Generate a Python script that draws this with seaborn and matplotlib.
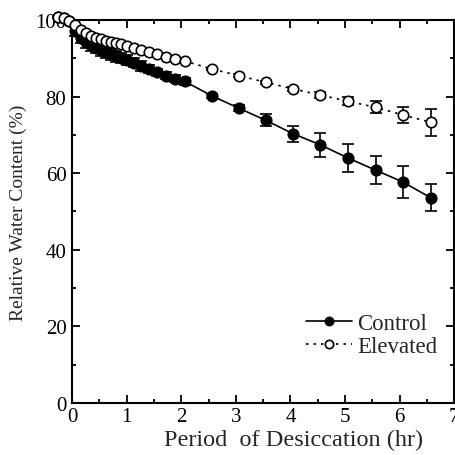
import numpy as np
import pandas as pd
import seaborn as sns
import matplotlib.pyplot as plt
from matplotlib.ticker import MultipleLocator

# desiccation time (hr)
hours = [-0.26, -0.15, -0.05, 0.06, 0.16, 0.26, 0.35, 0.44, 0.53, 0.62,
         0.72, 0.81, 0.90, 1.00, 1.13, 1.27, 1.41, 1.56, 1.72, 1.89,
         2.06, 2.56, 3.05, 3.55, 4.05, 4.55, 5.05, 5.56, 6.06, 6.57]

control = [100.8, 100.4, 99.8, 97.0, 95.3, 94.3, 93.5, 92.8, 92.2, 91.6,
           91.0, 90.5, 90.0, 89.5, 88.8, 88.0, 87.2, 86.3, 85.5, 84.7,
           84.0, 80.2, 77.0, 73.8, 70.3, 67.4, 64.0, 60.8, 57.7, 53.6]
control_err = [0.3, 0.3, 0.5, 1.2, 1.4, 1.5, 1.5, 1.5, 1.5, 1.5,
               1.4, 1.4, 1.3, 1.3, 1.2, 1.2, 1.1, 1.0, 1.0, 0.9,
               0.9, 0.6, 0.7, 1.6, 2.1, 3.1, 3.7, 3.7, 4.1, 3.6]

elevated = [100.8, 100.4, 99.8, 98.6, 97.3, 96.5, 95.9, 95.4, 95.0, 94.6,
            94.3, 94.0, 93.7, 93.3, 92.8, 92.2, 91.6, 91.0, 90.3, 89.8,
            89.3, 87.2, 85.5, 83.7, 82.0, 80.4, 78.8, 77.2, 75.2, 73.3]
elevated_err = [0.2, 0.2, 0.2, 0.3, 0.3, 0.3, 0.3, 0.3, 0.3, 0.3,
                0.3, 0.3, 0.3, 0.3, 0.3, 0.3, 0.3, 0.3, 0.3, 0.3,
                0.3, 0.3, 0.4, 0.4, 0.6, 0.8, 1.0, 1.6, 2.0, 3.5]

df = pd.DataFrame({'hours': hours * 2,
                   'rwc': control + elevated,
                   'group': ['Control'] * len(hours) + ['Elevated'] * len(hours)})

sns.set_style('ticks')
plt.rcParams['font.family'] = ['Liberation Serif', 'DejaVu Serif']

fig = plt.figure(figsize=(4.56, 4.56), dpi=100)
ax = fig.add_axes([0.158, 0.114, 0.838, 0.84])

ax.errorbar(hours, control, yerr=control_err, fmt='none', ecolor='black',
            elinewidth=1.2, capsize=4, capthick=1.2, clip_on=False, zorder=2)
ax.errorbar(hours, elevated, yerr=elevated_err, fmt='none', ecolor='black',
            elinewidth=1.2, capsize=4, capthick=1.2, clip_on=False, zorder=2)

sns.lineplot(data=df[df.group == 'Control'], x='hours', y='rwc', ax=ax,
             color='black', linewidth=1.2, marker='o', markersize=8,
             markerfacecolor='black', markeredgecolor='black',
             label='Control', clip_on=False, zorder=3)
sns.lineplot(data=df[df.group == 'Elevated'], x='hours', y='rwc', ax=ax,
             color='black', linewidth=1.2, linestyle=(0, (1.5, 3)), marker='o',
             markersize=7.5, markerfacecolor='white', markeredgecolor='black',
             markeredgewidth=1.2, label='Elevated', clip_on=False, zorder=4)

ax.set_xlim(0, 7)
ax.set_ylim(0, 100)
ax.xaxis.set_major_locator(MultipleLocator(1))
ax.xaxis.set_minor_locator(MultipleLocator(0.5))
ax.yaxis.set_major_locator(MultipleLocator(20))
ax.yaxis.set_minor_locator(MultipleLocator(10))
ax.tick_params(which='both', direction='in', top=True, right=True,
               width=1.3, labelsize=15, colors='black')
ax.tick_params(which='major', length=6)
ax.tick_params(axis='x', which='major', pad=3)
ax.tick_params(axis='y', which='major', pad=4)
ax.tick_params(which='minor', length=3)
for s in ax.spines.values():
    s.set_linewidth(1.5)
    s.set_color('black')

ax.set_xlabel('Period  of Desiccation (hr)', fontsize=17.5)
ax.xaxis.set_label_coords(0.579, -0.068)
ax.set_ylabel('Relative Water Content (%)', fontsize=14, labelpad=6)

ax.legend(loc='upper left', bbox_to_anchor=(0.612, 0.234), frameon=False,
          fontsize=16.5, handlelength=2.0, handletextpad=0.25,
          labelspacing=0.05, borderpad=0, borderaxespad=0, markerscale=0.8)

fig.savefig('out.png', dpi=100)
